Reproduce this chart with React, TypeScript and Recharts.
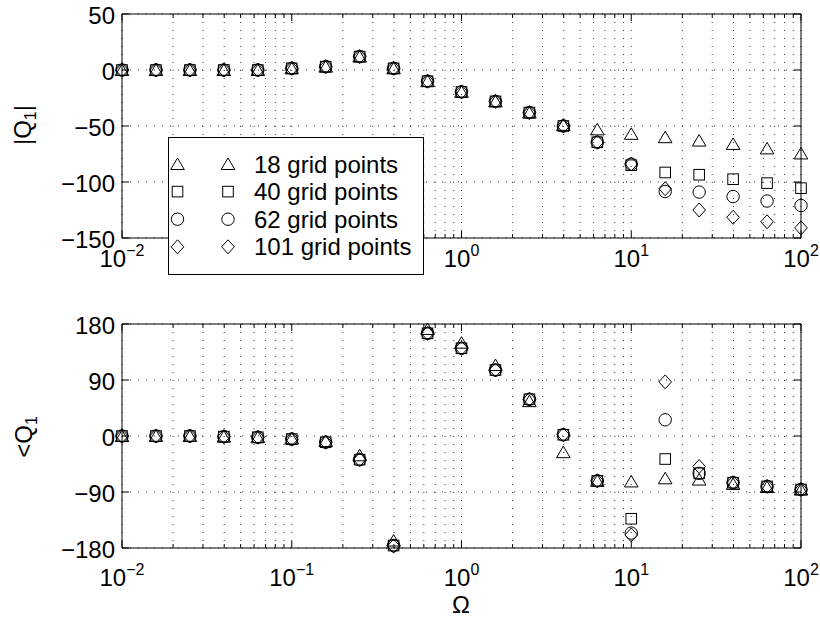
import React from 'react';
import { ScatterChart, Scatter, XAxis, YAxis, CartesianGrid, ReferenceArea, Legend } from 'recharts';

const FONT = '"Liberation Sans", Arial, Helvetica, sans-serif';

// Frequencies (5 points per decade)
const OMEGA = [
  0.01, 0.01585, 0.02512, 0.03981, 0.0631, 0.1, 0.1585, 0.2512, 0.3981, 0.631,
  1, 1.585, 2.512, 3.981, 6.31, 10, 15.85, 25.12, 39.81, 63.1, 100,
];

// |Q1| per discretisation
const MAG_18 = [0, 0, 0, 0, 0, 1.5, 3, 12, 1.5, -10, -19.5, -28, -38, -49, -53, -57, -60, -63, -66, -70, -74.5];
const MAG_40 = [0, 0, 0, 0, 0, 1.5, 3, 12, 1.5, -10, -19.5, -28, -38, -50, -64.5, -85, -91.5, -93.5, -97.5, -101, -105.5];
const MAG_62 = [0, 0, 0, 0, 0, 1.5, 3, 12, 1.5, -10, -19.5, -28, -38, -50, -64.5, -84, -108.5, -109, -113, -117, -121];
const MAG_101 = [0, 0, 0, 0, 0, 1.5, 3, 12, 1.5, -10, -19.5, -28, -38, -50, -64.5, -84, -106, -125, -131.5, -135.5, -141];

// <Q1 (degrees) per discretisation
const PHASE_18 = [0, 0, 0, -1, -2, -4, -8, -31, -168, 172, 150, 114, 56, -26, -72, -73, -68, -70, -77, -82, -86];
const PHASE_40 = [0, 0, 0, -1, -2, -5, -10, -38, -176, 165, 141, 106, 59, 2, -72, -133, -37, -60, -75, -81, -86];
const PHASE_62 = [0, 0, 0, -1, -2, -5, -10, -38, -176, 165, 141, 106, 59, 2, -72, -156, 26, -60, -75, -81, -86];
const PHASE_101 = [0, 0, 0, -1, -2, -5, -10, -38, -177, 165, 141, 106, 59, 2, -72, -159, 87, -49, -75, -81, -86];

const SERIES_NAMES = ['18 grid points', '40 grid points', '62 grid points', '101 grid points'];
const MARKERS = ['triangle', 'square', 'circle', 'diamond'];

const X_MAJOR_TICKS = [0.01, 0.1, 1, 10, 100];
const X_MINOR_STEPS = [2, 3, 4, 5, 6, 7, 8, 9];
const X_TICKS = [
  ...X_MAJOR_TICKS,
  ...X_MAJOR_TICKS.slice(0, -1).flatMap((d) => X_MINOR_STEPS.map((m) => +(d * m).toPrecision(6))),
].sort((a, b) => a - b);
const MAG_TICKS = [-150, -100, -50, 0, 50];
const PHASE_TICKS = [-180, -90, 0, 90, 180];

const PLOT_LEFT = 122;
const PLOT_RIGHT = 801;
const PLOT_W = PLOT_RIGHT - PLOT_LEFT;
const PLOT_H = 224;

const toPoints = (vals: number[]) => OMEGA.map((w, i) => ({ w, v: vals[i] }));

const MAG_SERIES = [MAG_18, MAG_40, MAG_62, MAG_101].map(toPoints);
const PHASE_SERIES = [PHASE_18, PHASE_40, PHASE_62, PHASE_101].map(toPoints);

const stroke = { fill: 'none', stroke: '#000', strokeWidth: 1 };

function Marker({ kind, cx, cy }: { kind: string; cx: number; cy: number }) {
  switch (kind) {
    case 'triangle':
      return <polygon points={`${cx},${cy - 6} ${cx - 6.8},${cy + 5.5} ${cx + 6.8},${cy + 5.5}`} {...stroke} />;
    case 'square':
      return <rect x={cx - 5.3} y={cy - 5.3} width={10.6} height={10.6} {...stroke} />;
    case 'circle':
      return <circle cx={cx} cy={cy} r={6.2} {...stroke} />;
    default:
      return <polygon points={`${cx},${cy - 7} ${cx + 6.3},${cy} ${cx},${cy + 7} ${cx - 6.3},${cy}`} {...stroke} />;
  }
}

const fmtNum = (v: number) => (v < 0 ? `\u2212${-v}` : `${v}`);

const makeXTick = (labelDrop: number) => (props: any) => {
  const { x, y, payload } = props;
  const v = payload.value;
  const major = X_MAJOR_TICKS.some((t) => Math.abs(t - v) < 1e-9);
  const len = major ? 7 : 4;
  const exp = Math.round(Math.log10(v));
  return (
    <g>
      <line x1={x} x2={x} y1={y} y2={y - len} stroke="#000" />
      <line x1={x} x2={x} y1={y - PLOT_H} y2={y - PLOT_H + len} stroke="#000" />
      {major && (
        <text x={x} y={y + labelDrop} textAnchor="middle" fontSize={24} fontFamily={FONT} fill="#000">
          10
          <tspan dy={-11} fontSize={16}>
            {fmtNum(exp)}
          </tspan>
        </text>
      )}
    </g>
  );
};

const YTick = (props: any) => {
  const { x, y, payload } = props;
  return (
    <g>
      <line x1={x} x2={x + 7} y1={y} y2={y} stroke="#000" />
      <line x1={x + PLOT_W} x2={x + PLOT_W - 7} y1={y} y2={y} stroke="#000" />
      <text x={x - 7} y={y + 9.5} textAnchor="end" fontSize={24} fontFamily={FONT} fill="#000">
        {fmtNum(payload.value)}
      </text>
    </g>
  );
};

const LegendBox = () => (
  <svg width={257} height={139} style={{ display: 'block' }}>
    <rect x={0.5} y={0.5} width={255} height={137} fill="#fff" stroke="#000" strokeWidth={1} />
    {SERIES_NAMES.map((name, i) => {
      const cy = 27 + i * 27.6;
      return (
        <g key={name}>
          <Marker kind={MARKERS[i]} cx={9.5} cy={cy} />
          <Marker kind={MARKERS[i]} cx={60} cy={cy} />
          <text x={86} y={cy + 8.6} fontSize={24} fontFamily={FONT} fill="#000">
            {name}
          </text>
        </g>
      );
    })}
  </svg>
);

function Panel({
  height,
  marginTop,
  xAxisHeight,
  labelDrop,
  yTicks,
  series,
  withLegend,
}: {
  height: number;
  marginTop: number;
  xAxisHeight: number;
  labelDrop: number;
  yTicks: number[];
  series: { w: number; v: number }[][];
  withLegend?: boolean;
}) {
  const yMin = yTicks[0];
  const yMax = yTicks[yTicks.length - 1];
  return (
    <ScatterChart width={820} height={height} margin={{ top: marginTop, right: 820 - PLOT_RIGHT, bottom: 0, left: 0 }}>
      <CartesianGrid stroke="#333" strokeWidth={1} strokeDasharray="1 7" />
      <XAxis
        type="number"
        dataKey="w"
        scale="log"
        domain={[0.01, 100]}
        ticks={X_TICKS}
        interval={0}
        height={xAxisHeight}
        axisLine={false}
        tickLine={false}
        tickSize={0}
        tickMargin={0}
        tick={makeXTick(labelDrop)}
      />
      <YAxis
        type="number"
        dataKey="v"
        domain={[yMin, yMax]}
        ticks={yTicks}
        interval={0}
        width={PLOT_LEFT}
        axisLine={false}
        tickLine={false}
        tickSize={0}
        tickMargin={0}
        tick={YTick}
      />
      <ReferenceArea x1={0.01} x2={100} y1={yMin} y2={yMax} fill="none" stroke="#000" strokeWidth={1} fillOpacity={0} />
      {series.map((data, i) => (
        <Scatter
          key={SERIES_NAMES[i]}
          name={SERIES_NAMES[i]}
          data={data}
          isAnimationActive={false}
          shape={(p: any) => <Marker kind={MARKERS[i]} cx={p.cx} cy={p.cy} />}
        />
      ))}
      {withLegend && (
        <Legend
          layout="horizontal"
          verticalAlign="middle"
          align="center"
          content={LegendBox}
          wrapperStyle={{ position: 'absolute', left: 168, top: 137, width: 257, height: 139 }}
        />
      )}
    </ScatterChart>
  );
}

export default function App() {
  return (
    <div style={{ position: 'absolute', left: 0, top: 0, width: 820, height: 618, background: '#fff', fontFamily: FONT }}>
      <div style={{ position: 'absolute', left: 0, top: 0 }}>
        <Panel height={290} marginTop={14} xAxisHeight={52} labelDrop={29} yTicks={MAG_TICKS} series={MAG_SERIES} withLegend />
      </div>
      <div style={{ position: 'absolute', left: 0, top: 290 }}>
        <Panel height={328} marginTop={34} xAxisHeight={70} labelDrop={38} yTicks={PHASE_TICKS} series={PHASE_SERIES} />
      </div>
      <svg width={820} height={618} style={{ position: 'absolute', left: 0, top: 0, pointerEvents: 'none' }}>
        <text transform="translate(31,125) rotate(-90)" textAnchor="middle" fontSize={24} fontFamily={FONT} fill="#000">
          |Q
          <tspan dy={5} fontSize={16}>1</tspan>
          <tspan dy={-5}>|</tspan>
        </text>
        <text transform="translate(32,437) rotate(-90)" textAnchor="middle" fontSize={24} fontFamily={FONT} fill="#000">
          &lt;Q
          <tspan dy={5} fontSize={16}>1</tspan>
        </text>
        <text x={461} y={612.5} textAnchor="middle" fontSize={24} fontFamily={FONT} fill="#000">
          Ω
        </text>
      </svg>
    </div>
  );
}
